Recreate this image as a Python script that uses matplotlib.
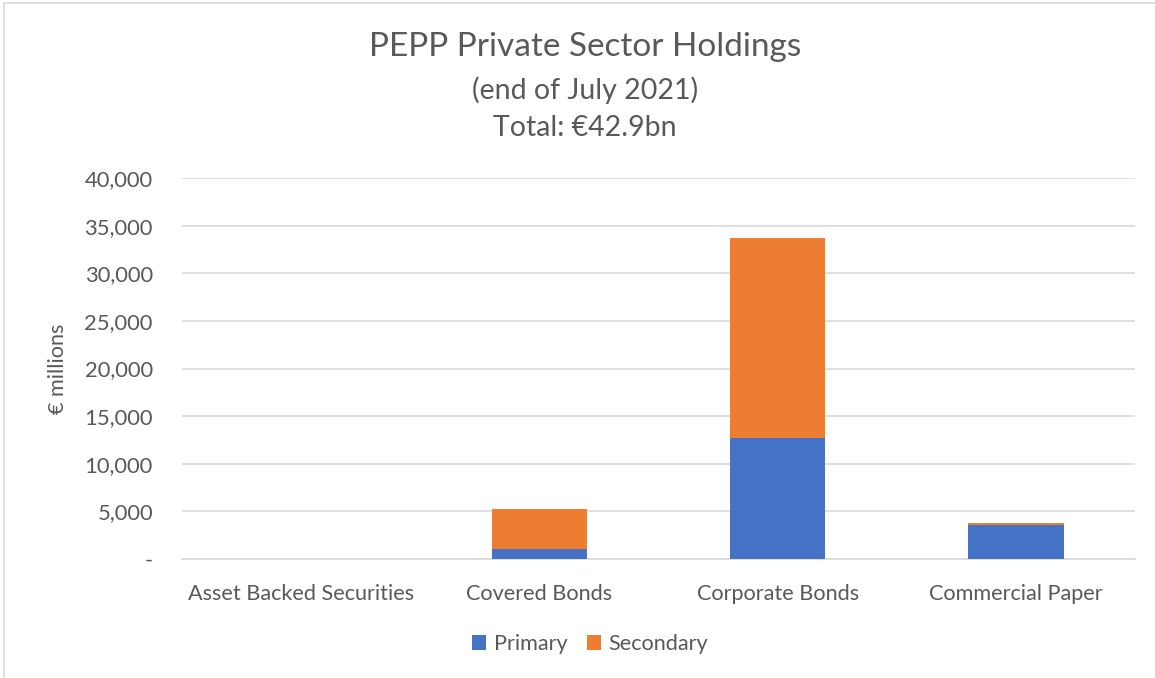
import matplotlib
matplotlib.use("Agg")
import matplotlib.pyplot as plt
from matplotlib.patches import Rectangle
from matplotlib.ticker import FuncFormatter

categories = ["Asset Backed Securities", "Covered Bonds", "Corporate Bonds", "Commercial Paper"]
primary = [0, 1100, 12700, 3550]
secondary = [0, 4200, 21050, 250]
yticks = [0, 5000, 10000, 15000, 20000, 25000, 30000, 35000, 40000]

plt.rcParams['font.family'] = ['Lato', 'DejaVu Sans']
gray = '#595959'

fig = plt.figure(figsize=(11.55, 6.78), dpi=100)
ax = fig.add_axes([182/1155, 1-559/678, (1135-182)/1155, (559-178)/678])

x = list(range(len(categories)))
ax.bar(x, primary, width=0.4, color='#4472C4', label='Primary', zorder=3)
ax.bar(x, secondary, width=0.4, bottom=primary, color='#ED7D31', label='Secondary', zorder=3)

ax.set_xlim(-0.5, 3.5)
ax.set_ylim(0, 40000)
ax.set_yticks(yticks)
ax.yaxis.set_major_formatter(FuncFormatter(lambda v, p: '-' if v == 0 else f"{int(v):,}"))
ax.grid(axis='y', color='#d9d9d9', linewidth=1.2, zorder=0)
for s in ['top', 'right', 'left']:
    ax.spines[s].set_visible(False)
ax.spines['bottom'].set_color('#d9d9d9')
ax.spines['bottom'].set_linewidth(1.2)
ax.tick_params(axis='y', length=0, pad=21, labelsize=15.8, labelcolor=gray)
ax.tick_params(axis='x', length=0, pad=18, labelsize=15.6, labelcolor=gray)
ax.set_xticks(x)
ax.set_xticklabels(categories)
ax.set_ylabel('€ millions', fontsize=15.6, color=gray, labelpad=12)

fig.text(585/1155, 1-47/678, 'PEPP Private Sector Holdings', ha='center', va='center', fontsize=24, color=gray)
fig.text(585/1155, 1-90/678, '(end of July 2021)', ha='center', va='center', fontsize=20.5, color=gray)
fig.text(585/1155, 1-128/678, 'Total: €42.9bn', ha='center', va='center', fontsize=20.5, color=gray)

leg = fig.legend(loc='center', bbox_to_anchor=(590/1155, 1-644/678), ncol=2, frameon=False,
                 fontsize=15.6, handlelength=0.65, handleheight=0.65, handletextpad=0.35, columnspacing=0.9)
for t in leg.get_texts():
    t.set_color(gray)

fig.patches.append(Rectangle((3.5/1155, -0.05), 1.2, 1 - 3.5/678 + 0.05, transform=fig.transFigure,
                             fill=False, edgecolor='#d9d9d9', linewidth=1.2))

fig.savefig('out.png', dpi=100)
